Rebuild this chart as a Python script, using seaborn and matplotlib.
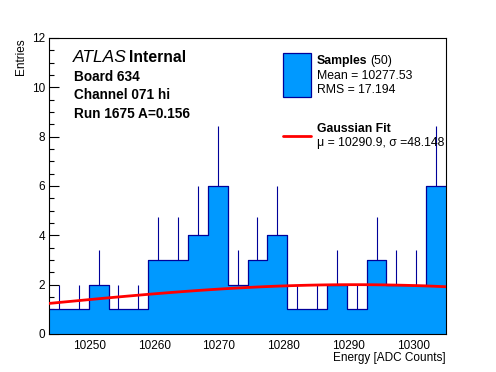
import numpy as np
import pandas as pd
import matplotlib
matplotlib.use("Agg")
import matplotlib.pyplot as plt
from matplotlib.ticker import MultipleLocator
import seaborn as sns

# ---- data ----
x_min = 10243.8
x_max = 10305.0
n_bins = 20
counts = [1, 1, 2, 1, 1, 3, 3, 4, 6, 2, 3, 4, 1, 1, 2, 1, 3, 2, 2, 6]
fit_mu = 10290.9
fit_sigma = 48.148
fit_amp = 2.0
n_samples = 50
mean_val = "10277.53"
rms_val = "17.194"
title_lines = ["Board 634", "Channel 071 hi", "Run 1675 A=0.156"]

sns.set_style("ticks")
plt.rcParams['font.family'] = ['Liberation Sans', 'DejaVu Sans']
plt.rcParams['text.color'] = 'black'
plt.rcParams['axes.labelcolor'] = 'black'
plt.rcParams['xtick.color'] = 'black'
plt.rcParams['ytick.color'] = 'black'

edges = np.linspace(x_min, x_max, n_bins + 1)
centers = 0.5 * (edges[:-1] + edges[1:])
counts_arr = np.array(counts, dtype=float)
errs = np.sqrt(counts_arr)
df = pd.DataFrame({"energy": centers, "n": counts_arr})

fill_c = "#0099ff"
navy = "#000099"

W, H = 496, 372
fig = plt.figure(figsize=(W / 100, H / 100), dpi=100)
ax = fig.add_axes([49 / W, 1 - 334 / H, (446 - 49) / W, (334 - 38) / H])

# error bars (lower part hidden by the opaque fill)
ax.vlines(centers, counts_arr - errs, counts_arr + errs, color=navy, lw=0.8, zorder=0.5)

sns.histplot(data=df, x="energy", weights="n", bins=n_bins, binrange=(x_min, x_max),
             element="step", fill=True, color=fill_c, alpha=1, linewidth=0, ax=ax, zorder=1)
sns.histplot(data=df, x="energy", weights="n", bins=n_bins, binrange=(x_min, x_max),
             element="step", fill=False, color=navy, linewidth=0.9, ax=ax, zorder=2)

# Gaussian fit curve from the fitted parameters
xf = np.linspace(x_min, x_max, 120)
yf = fit_amp * np.exp(-0.5 * ((xf - fit_mu) / fit_sigma) ** 2)
sns.lineplot(x=xf, y=yf, color="red", lw=2.0, ax=ax, zorder=3)

ax.set_xlim(x_min, x_max)
ax.set_ylim(0, 12)
ax.xaxis.set_major_locator(MultipleLocator(10))
ax.xaxis.set_minor_locator(MultipleLocator(2))
ax.yaxis.set_major_locator(MultipleLocator(2))
ax.yaxis.set_minor_locator(MultipleLocator(0.5))
ax.tick_params(which="both", direction="in", top=False, right=False, labelsize=8.5,
               width=0.8, color="black", labelcolor="black")
ax.tick_params(which="major", length=7)
ax.tick_params(which="minor", length=3.6)
ax.tick_params(axis="x", pad=4)
ax.tick_params(axis="y", pad=3)
for s in ax.spines.values():
    s.set_linewidth(0.8)
    s.set_color("black")
ax.grid(False)

ax.set_xlabel("Energy [ADC Counts]", fontsize=8.5, loc="right", labelpad=0.5)
ax.set_ylabel("Entries", fontsize=8.5, loc="top", labelpad=3.5)

def px(x, y):
    return x / W, 1 - y / H

# ATLAS label & info
fig.text(*px(73, 58), "ATLAS", fontsize=12.5, style="italic", va="center", ha="left")
fig.text(*px(129, 58), "Internal", fontsize=11.3, weight="bold", va="center", ha="left")
for i, t in enumerate(title_lines):
    fig.text(*px(74, 77 + 18.3 * i), t, fontsize=9.8, weight="bold",
             va="center", ha="left")

# legend
fig.patches.append(plt.Rectangle(px(283, 97), 28 / W, 44 / H,
                                 transform=fig.transFigure, facecolor=fill_c,
                                 edgecolor=navy, lw=0.9))
fig.text(*px(370, 61), f"({n_samples})", fontsize=8.8, va="center", ha="left")
fig.text(*px(317, 61), "Samples", fontsize=8.8, weight="bold", va="center", ha="left")
fig.text(*px(317, 76), f"Mean = {mean_val}", fontsize=8.8, va="center", ha="left")
fig.text(*px(317, 90), f"RMS = {rms_val}", fontsize=8.8, va="center", ha="left")
fig.lines.append(plt.Line2D([283 / W, 311 / W], [1 - 135.7 / H] * 2,
                            transform=fig.transFigure, color="red", lw=2.0))
fig.text(*px(317, 129), "Gaussian Fit", fontsize=8.8, weight="bold", va="center", ha="left")
fig.text(*px(317, 143), f"μ = {fit_mu}, σ ={fit_sigma}", fontsize=8.8,
         va="center", ha="left")

fig.savefig("out.png", dpi=100, facecolor="white")
